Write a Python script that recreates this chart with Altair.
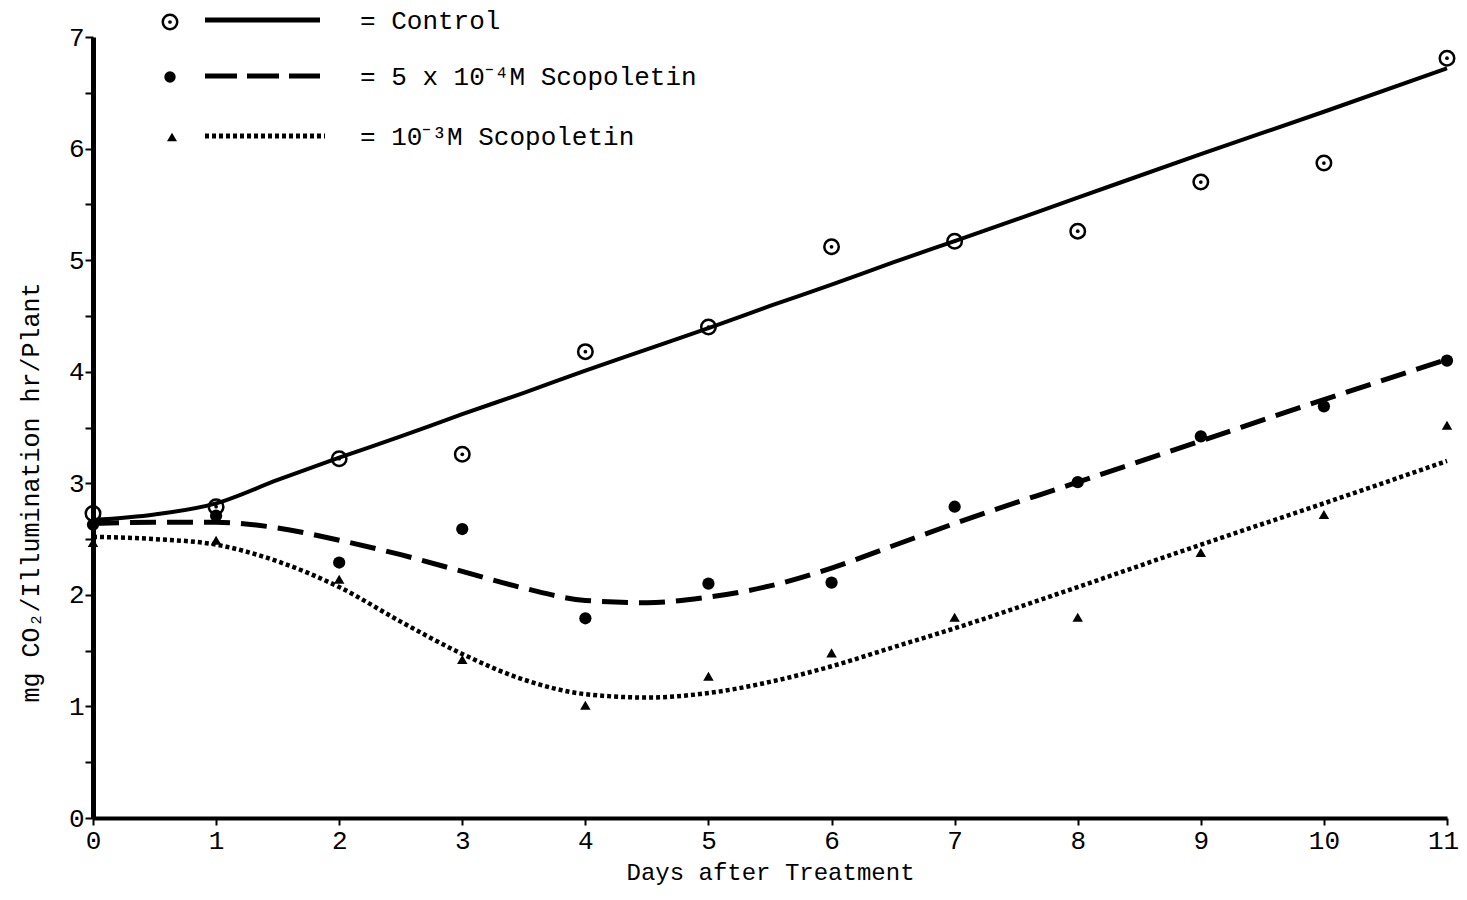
import altair as alt
import pandas as pd

days = list(range(12))
control_pts = [2.73, 2.79, 3.22, 3.26, 4.18, 4.40, 5.12, 5.17, 5.26, 5.70, 5.87, 6.81]
scop4_pts = [2.63, 2.71, 2.29, 2.59, 1.79, 2.10, 2.11, 2.79, 3.01, 3.42, 3.69, 4.10]
scop3_pts = [2.47, 2.49, 2.14, 1.42, 1.01, 1.27, 1.48, 1.80, 1.80, 2.38, 2.72, 3.52]

# ---- fitted curves ----
curve_days = [0, 0.5, 1, 1.5, 2, 2.5, 3, 3.5, 4, 4.5, 5, 5.5, 6, 6.5, 7, 8, 9, 10, 11]
control_curve = [2.67, 2.72, 2.82, 3.03, 3.23, 3.42, 3.62, 3.81, 4.01, 4.20, 4.39,
                 4.59, 4.78, 4.98, 5.17, 5.56, 5.95, 6.33, 6.72]
scop4_curve = [2.64, 2.65, 2.65, 2.60, 2.49, 2.36, 2.21, 2.06, 1.95, 1.93, 1.98,
               2.08, 2.24, 2.44, 2.64, 3.01, 3.38, 3.75, 4.11]
scop3_curve = [2.52, 2.50, 2.45, 2.30, 2.07, 1.76, 1.47, 1.24, 1.11, 1.08, 1.12,
               1.22, 1.36, 1.53, 1.70, 2.07, 2.45, 2.82, 3.20]

x_ticks = list(range(12))
y_ticks = [i * 0.5 for i in range(15)]

x_title = "Days after Treatment"
y_title = "mg CO\u2082/Illumination hr/Plant"
legend_texts = ["= Control", "= 5 x 10\u207b\u2074M Scopoletin", "= 10\u207b\u00b3M Scopoletin"]

FONT = "Liberation Mono"

pts_c = pd.DataFrame({"day": days, "v": control_pts})
pts_4 = pd.DataFrame({"day": days, "v": scop4_pts})
pts_3 = pd.DataFrame({"day": days, "v": scop3_pts})
cur_c = pd.DataFrame({"day": curve_days, "v": control_curve})
cur_4 = pd.DataFrame({"day": curve_days, "v": scop4_curve})
cur_3 = pd.DataFrame({"day": curve_days, "v": scop3_curve})

xs = alt.Scale(domain=[0, 11], nice=False, zero=False)
ys = alt.Scale(domain=[0, 7], nice=False)

X = alt.X("day:Q", scale=xs, axis=alt.Axis(
    values=x_ticks, format="d", tickSize=7, tickWidth=2, tickColor="black",
    domainWidth=4, domainColor="black", grid=False,
    labelFont=FONT, labelFontSize=26, labelColor="black", labelPadding=2,
    labelFlush=False,
    labelOffset={"condition": {"test": "datum.value == 11", "value": -4}, "value": 0},
    title=x_title, titleFont=FONT, titleFontSize=24, titleFontWeight="normal",
    titleColor="black", titlePadding=7))
Y = alt.Y("v:Q", scale=ys, axis=alt.Axis(
    values=y_ticks, labelExpr="datum.value % 1 === 0 ? format(datum.value, 'd') : ''",
    tickSize=8, tickWidth=2, tickColor="black",
    domainWidth=5, domainColor="black", grid=False,
    labelFont=FONT, labelFontSize=26, labelColor="black", labelPadding=1,
    title=y_title, titleFont=FONT, titleFontSize=25, titleFontWeight="normal",
    titleColor="black", titleX=-63, titleY=455, titleAngle=270,
    titleAlign="center", titleBaseline="middle"))

line_c = alt.Chart(cur_c).mark_line(color="black", strokeWidth=4, interpolate="monotone").encode(x=X, y=Y)
line_4 = alt.Chart(cur_4).mark_line(color="black", strokeWidth=5, strokeDash=[26, 11],
                                    interpolate="monotone").encode(x=X, y=Y)
line_3 = alt.Chart(cur_3).mark_line(color="black", strokeWidth=4.5, strokeDash=[4, 3],
                                    interpolate="monotone").encode(x=X, y=Y)

p_c = alt.Chart(pts_c).mark_point(shape="circle", size=210, filled=False, color="black",
                                  strokeWidth=2.5, opacity=1).encode(x=X, y=Y)
p_c_dot = alt.Chart(pts_c).mark_point(shape="circle", size=14, filled=True, color="black",
                                      opacity=1).encode(x=X, y=Y)
p_4 = alt.Chart(pts_4).mark_point(shape="circle", size=150, filled=True, color="black",
                                  opacity=1).encode(x=X, y=Y)
p_3 = alt.Chart(pts_3).mark_point(shape="triangle-up", size=110, filled=True, color="black",
                                  opacity=1).encode(x=X, y=Y)

one = alt.Data(values=[{"k": 1}])
legend_rows_y = [-17, 39, 99]
leg = []
# symbols
leg.append(alt.Chart(one).mark_point(shape="circle", size=210, filled=False, color="black",
                                     strokeWidth=2.5, opacity=1)
           .encode(x=alt.value(77), y=alt.value(legend_rows_y[0] + 2)))
leg.append(alt.Chart(one).mark_point(shape="circle", size=14, filled=True, color="black", opacity=1)
           .encode(x=alt.value(77), y=alt.value(legend_rows_y[0] + 2)))
leg.append(alt.Chart(one).mark_point(shape="circle", size=130, filled=True, color="black", opacity=1)
           .encode(x=alt.value(77), y=alt.value(legend_rows_y[1] + 1)))
leg.append(alt.Chart(one).mark_point(shape="triangle-up", size=100, filled=True, color="black", opacity=1)
           .encode(x=alt.value(79), y=alt.value(legend_rows_y[2] + 1)))
# line samples
leg.append(alt.Chart(one).mark_rule(color="black", strokeWidth=5)
           .encode(x=alt.value(112), x2=alt.value(227), y=alt.value(legend_rows_y[0])))
leg.append(alt.Chart(one).mark_rule(color="black", strokeWidth=5, strokeDash=[32, 10])
           .encode(x=alt.value(112), x2=alt.value(227), y=alt.value(legend_rows_y[1])))
leg.append(alt.Chart(one).mark_rule(color="black", strokeWidth=5, strokeDash=[4, 3])
           .encode(x=alt.value(112), x2=alt.value(232), y=alt.value(legend_rows_y[2])))
# texts
for t, yv in zip(legend_texts, legend_rows_y):
    leg.append(alt.Chart(one).mark_text(align="left", baseline="middle", font=FONT,
                                        fontSize=26, color="black")
               .encode(x=alt.value(267), y=alt.value(yv + 1), text=alt.value(t)))

chart = alt.layer(line_c, line_4, line_3, p_c, p_c_dot, p_4, p_3, *leg).properties(
    width=1354, height=781,
    autosize=alt.AutoSizeParams(type="none"),
    padding={"left": 85, "top": 29, "right": 12, "bottom": 74},
    background="white",
).configure_view(stroke=None)

chart.save("out.html", embed_options={"renderer": "svg", "actions": False})
